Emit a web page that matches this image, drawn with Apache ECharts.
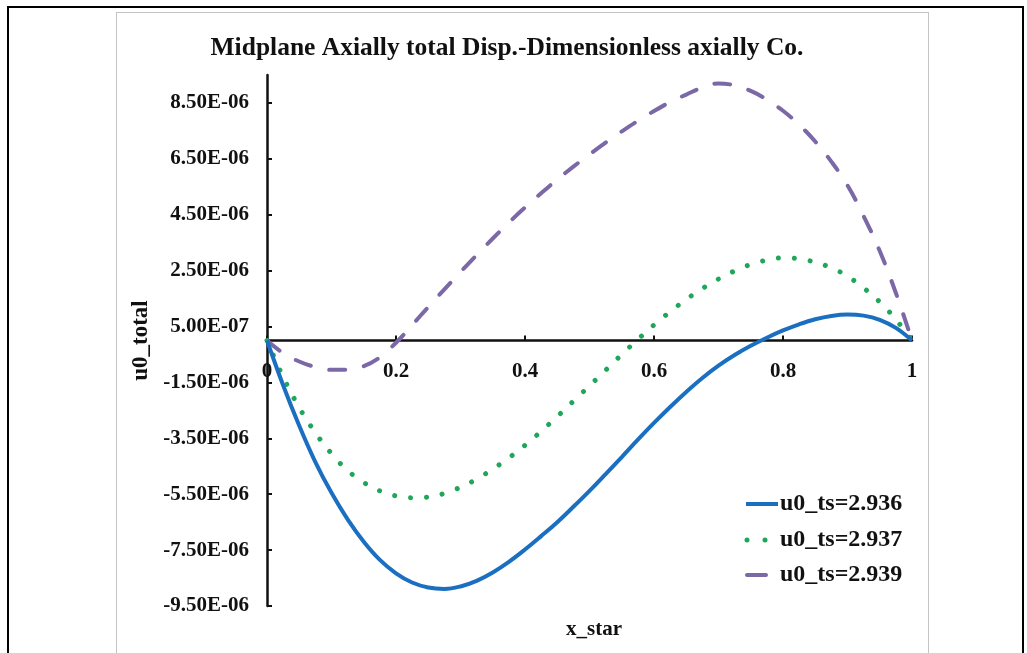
<!DOCTYPE html>
<html>
<head>
<meta charset="utf-8">
<script src="https://cdn.jsdelivr.net/npm/echarts@6/dist/echarts.min.js"></script>
<style>
  html, body { margin: 0; padding: 0; background: #fff; }
  #frame { position: absolute; left: 7px; top: 6px; width: 1017px; height: 700px; border: 2px solid #000; box-sizing: border-box; }
  #box { position: absolute; left: 116px; top: 12px; width: 813px; height: 700px; border: 1.5px solid #c4c4c4; box-sizing: border-box; }
  #chart { position: absolute; left: 0; top: 0; width: 1027px; height: 653px; }
</style>
</head>
<body>
<div id="frame"></div>
<div id="box"></div>
<div id="chart"></div>
<script>
// Dimensionless axial coordinate x_star
const xStar = [0, 0.025, 0.05, 0.075, 0.1, 0.125, 0.15, 0.175, 0.2, 0.225,
               0.25, 0.275, 0.3, 0.325, 0.35, 0.375, 0.4, 0.425, 0.45, 0.475,
               0.5, 0.525, 0.55, 0.575, 0.6, 0.625, 0.65, 0.675, 0.7, 0.725,
               0.75, 0.775, 0.8, 0.825, 0.85, 0.875, 0.9, 0.925, 0.95, 0.975, 1];

// Midplane axial total displacement u0_total for each u0_ts
const u0ts2936 = [0, -1.6e-6, -3.05e-6, -4.35e-6, -5.45e-6, -6.4e-6, -7.2e-6, -7.85e-6, -8.33e-6, -8.66e-6,
                  -8.84e-6, -8.89e-6, -8.8e-6, -8.6e-6, -8.3e-6, -7.92e-6, -7.48e-6, -7.0e-6, -6.5e-6, -5.95e-6,
                  -5.38e-6, -4.78e-6, -4.17e-6, -3.55e-6, -2.95e-6, -2.38e-6, -1.84e-6, -1.34e-6, -0.9e-6, -0.52e-6,
                  -0.19e-6, 0.1e-6, 0.36e-6, 0.58e-6, 0.76e-6, 0.88e-6, 0.93e-6, 0.89e-6, 0.74e-6, 0.45e-6, 0];
const u0ts2937 = [0, -1.3e-6, -2.4e-6, -3.3e-6, -4.05e-6, -4.65e-6, -5.08e-6, -5.38e-6, -5.56e-6, -5.63e-6,
                  -5.6e-6, -5.47e-6, -5.25e-6, -4.96e-6, -4.6e-6, -4.2e-6, -3.75e-6, -3.25e-6, -2.72e-6, -2.17e-6,
                  -1.62e-6, -1.06e-6, -0.5e-6, 0.04e-6, 0.56e-6, 1.03e-6, 1.47e-6, 1.86e-6, 2.2e-6, 2.49e-6,
                  2.72e-6, 2.88e-6, 2.96e-6, 2.92e-6, 2.8e-6, 2.6e-6, 2.3e-6, 1.88e-6, 1.38e-6, 0.75e-6, 0];
const u0ts2939 = [0, -0.45e-6, -0.75e-6, -0.95e-6, -1.05e-6, -1.05e-6, -0.92e-6, -0.6e-6, -0.08e-6, 0.55e-6,
                  1.2e-6, 1.83e-6, 2.45e-6, 3.06e-6, 3.65e-6, 4.22e-6, 4.76e-6, 5.27e-6, 5.76e-6, 6.22e-6,
                  6.66e-6, 7.08e-6, 7.48e-6, 7.86e-6, 8.21e-6, 8.53e-6, 8.8e-6, 9.05e-6, 9.2e-6, 9.13e-6,
                  8.93e-6, 8.62e-6, 8.22e-6, 7.72e-6, 7.12e-6, 6.4e-6, 5.55e-6, 4.45e-6, 3.2e-6, 1.7e-6, 0];

const seriesNames = ['u0_ts=2.936', 'u0_ts=2.937', 'u0_ts=2.939'];

// Axis ticks
const xTickStep = 0.2;
const yTicks = [-9.5e-6, -7.5e-6, -5.5e-6, -3.5e-6, -1.5e-6, 0.5e-6, 2.5e-6, 4.5e-6, 6.5e-6, 8.5e-6];
const yMin = -9.5e-6, yMax = 9.5e-6;

const FONT = '"Liberation Serif", "Times New Roman", serif';
const INK = '#111';

// Line looks shared by the curves and the key
const looks = [
  { color: '#1a6fc0', width: 4, dash: null, cap: 'butt' },
  { color: '#1fa65a', width: 5, dash: [0.01, 16], cap: 'round' },
  { color: '#7b68a6', width: 4, dash: [16, 19], cap: 'round' }
];

// Excel-style scientific label, e.g. 8.50E-06
function sci(v) {
  const s = v.toExponential(2).toUpperCase();
  const m = s.match(/^(-?[\d.]+)E([+-])(\d+)$/);
  return m[1] + 'E' + m[2] + (m[3].length < 2 ? '0' + m[3] : m[3]);
}

function pairs(ys) { return xStar.map((x, i) => [x, ys[i]]); }

const W = 1027, H = 653;
const grid = { left: 267, right: 115, top: 75, bottom: 47 };
const gridH = H - grid.top - grid.bottom;
// x axis sits on y = 0
const xAxisOffset = -((0 - yMin) / (yMax - yMin)) * gridH;

// Key in the lower right of the plot
const keyX = 746, keyRows = [504, 540, 575], keyLen = 32;
const keySamples = [
  { x1: keyX, x2: keyX + keyLen, dash: null },
  { x1: keyX + 1, x2: keyX + 20, dash: [0.01, 18] },
  { x1: keyX + 1, x2: keyX + 20, dash: null }
];
const keyGraphics = [];
seriesNames.forEach((name, i) => {
  const lk = looks[i], sm = keySamples[i];
  const y = keyRows[i];
  keyGraphics.push({
    type: 'line', silent: true,
    shape: { x1: sm.x1, y1: y, x2: sm.x2, y2: y },
    style: { stroke: lk.color, lineWidth: lk.width, lineCap: lk.cap, lineDash: sm.dash }
  });
  keyGraphics.push({
    type: 'text', silent: true, x: keyX + keyLen + 2, y: y,
    style: { text: name, fill: INK, font: 'bold 24px ' + FONT, verticalAlign: 'middle', align: 'left' }
  });
});

const chart = echarts.init(document.getElementById('chart'), null, { renderer: 'canvas' });

chart.setOption({
  animation: false,
  backgroundColor: 'transparent',
  title: [
    {
      text: 'Midplane Axially total Disp.-Dimensionless axially Co.',
      left: 502, top: 30, textAlign: 'center',
      textStyle: { fontFamily: FONT, fontWeight: 'bold', fontSize: 25.5, color: INK }
    },
    {
      text: 'x_star',
      left: 589, top: 614, textAlign: 'center',
      textStyle: { fontFamily: FONT, fontWeight: 'bold', fontSize: 21, color: INK }
    }
  ],
  grid: Object.assign({ containLabel: false }, grid),
  graphic: keyGraphics,
  xAxis: {
    type: 'value', min: 0, max: 1, interval: xTickStep,
    offset: xAxisOffset,
    axisLine: { onZero: false, lineStyle: { color: INK, width: 2.5 } },
    axisTick: { inside: true, length: 5, lineStyle: { color: INK, width: 2 } },
    axisLabel: {
      margin: 21, color: INK, fontFamily: FONT, fontWeight: 'bold', fontSize: 21,
      formatter: v => String(+v.toFixed(2))
    },
    splitLine: { show: false }
  },
  yAxis: {
    type: 'value', min: yMin, max: yMax,
    name: 'u0_total', nameLocation: 'middle', nameGap: 108, nameRotate: 90,
    nameTextStyle: { fontFamily: FONT, fontWeight: 'bold', fontSize: 23, color: INK },
    axisLine: { onZero: false, lineStyle: { color: INK, width: 2.5 } },
    axisTick: { inside: true, length: 5, customValues: yTicks, lineStyle: { color: INK, width: 2 } },
    axisLabel: {
      margin: 18, color: INK, fontFamily: FONT, fontWeight: 'bold', fontSize: 21,
      customValues: yTicks, formatter: v => sci(v)
    },
    splitLine: { show: false }
  },
  series: seriesNames.map((name, i) => ({
    name: name, type: 'line', smooth: 0.4, symbol: 'none', z: 3 - i,
    data: pairs([u0ts2936, u0ts2937, u0ts2939][i]),
    itemStyle: { color: looks[i].color },
    lineStyle: {
      color: looks[i].color, width: looks[i].width,
      type: looks[i].dash || 'solid', cap: looks[i].cap
    }
  }))
});
</script>
</body>
</html>
